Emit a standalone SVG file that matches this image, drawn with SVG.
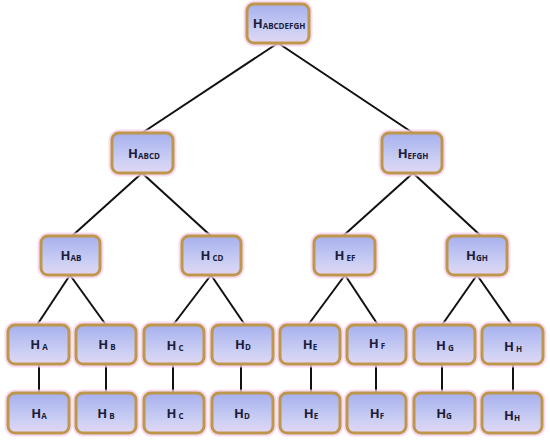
<svg xmlns="http://www.w3.org/2000/svg" width="550" height="443" viewBox="0 0 550 443">
<defs>
<linearGradient id="fillg" x1="0" y1="0" x2="0" y2="1">
<stop offset="0" stop-color="#a6b0ee"/>
<stop offset="0.7" stop-color="#cdd0f4"/>
<stop offset="1" stop-color="#e2d6f4"/>
</linearGradient>
<style>
.glow{fill:none;stroke:#f6cfee;stroke-width:7;opacity:0.75}
.box{fill:url(#fillg);stroke:#bd974c;stroke-width:3}
.lbl{font-family:"Open Sans","DejaVu Sans",sans-serif;font-weight:bold;font-size:13px;fill:#1b1d3a;text-anchor:middle}
.sub{font-size:8px}
.edge{stroke:#111;stroke-width:2;fill:none}
</style>
</defs>
<rect width="550" height="443" fill="#ffffff"/>
<g id="connectors">
<line class="edge" x1="278" y1="43" x2="142" y2="133"/>
<line class="edge" x1="278" y1="43" x2="413" y2="133"/>
<line class="edge" x1="142" y1="173" x2="72" y2="236"/>
<line class="edge" x1="142" y1="173" x2="211" y2="236"/>
<line class="edge" x1="413" y1="173" x2="343" y2="236"/>
<line class="edge" x1="413" y1="173" x2="481" y2="236"/>
<line class="edge" x1="70" y1="275" x2="37" y2="325"/>
<line class="edge" x1="70" y1="275" x2="106" y2="325"/>
<line class="edge" x1="211" y1="275" x2="173" y2="325"/>
<line class="edge" x1="211" y1="275" x2="245" y2="325"/>
<line class="edge" x1="345" y1="275" x2="308" y2="325"/>
<line class="edge" x1="345" y1="275" x2="378" y2="325"/>
<line class="edge" x1="477" y1="275" x2="442" y2="325"/>
<line class="edge" x1="477" y1="275" x2="512" y2="325"/>
<line class="edge" x1="39" y1="364" x2="39" y2="393"/>
<line class="edge" x1="106" y1="364" x2="106" y2="393"/>
<line class="edge" x1="173" y1="364" x2="173" y2="393"/>
<line class="edge" x1="241" y1="364" x2="241" y2="393"/>
<line class="edge" x1="311" y1="364" x2="311" y2="393"/>
<line class="edge" x1="376" y1="364" x2="376" y2="393"/>
<line class="edge" x1="442" y1="364" x2="442" y2="393"/>
<line class="edge" x1="513" y1="364" x2="513" y2="393"/>
</g>
<g id="n-abcdefgh"><rect class="glow" x="247" y="4" width="62" height="39" rx="7"/><rect class="box" x="247" y="4" width="62" height="39" rx="7"/><text class="lbl" x="279" y="28">H<tspan class="sub" dy="1">ABCDEFGH</tspan></text></g>
<g id="n-abcd"><rect class="glow" x="112" y="133" width="61" height="40" rx="7"/><rect class="box" x="112" y="133" width="61" height="40" rx="7"/><text class="lbl" x="144" y="158">H<tspan class="sub" dy="1">ABCD</tspan></text></g>
<g id="n-efgh"><rect class="glow" x="382" y="133" width="60" height="40" rx="7"/><rect class="box" x="382" y="133" width="60" height="40" rx="7"/><text class="lbl" x="413" y="158">H<tspan class="sub" dy="1">EFGH</tspan></text></g>
<g id="n-ab"><rect class="glow" x="41" y="236" width="59" height="39" rx="7"/><rect class="box" x="41" y="236" width="59" height="39" rx="7"/><text class="lbl" x="71" y="260">H<tspan class="sub" dy="1">AB</tspan></text></g>
<g id="n-cd"><rect class="glow" x="182" y="236" width="59" height="39" rx="7"/><rect class="box" x="182" y="236" width="59" height="39" rx="7"/><text class="lbl" x="212" y="260">H<tspan class="sub" dy="1"> CD</tspan></text></g>
<g id="n-ef"><rect class="glow" x="314" y="236" width="61" height="39" rx="7"/><rect class="box" x="314" y="236" width="61" height="39" rx="7"/><text class="lbl" x="345" y="260">H<tspan class="sub" dy="1"> EF</tspan></text></g>
<g id="n-gh"><rect class="glow" x="447" y="236" width="60" height="39" rx="7"/><rect class="box" x="447" y="236" width="60" height="39" rx="7"/><text class="lbl" x="477" y="260">H<tspan class="sub" dy="1">GH</tspan></text></g>
<g id="n-a1"><rect class="glow" x="8" y="325" width="61" height="39" rx="7"/><rect class="box" x="8" y="325" width="61" height="39" rx="7"/><text class="lbl" x="39" y="349">H<tspan class="sub" dy="1"> A</tspan></text></g>
<g id="n-b1"><rect class="glow" x="76" y="325" width="60" height="39" rx="7"/><rect class="box" x="76" y="325" width="60" height="39" rx="7"/><text class="lbl" x="107" y="349">H<tspan class="sub" dy="1"> B</tspan></text></g>
<g id="n-c1"><rect class="glow" x="144" y="325" width="60" height="39" rx="7"/><rect class="box" x="144" y="325" width="60" height="39" rx="7"/><text class="lbl" x="175" y="350">H<tspan class="sub" dy="1"> C</tspan></text></g>
<g id="n-d1"><rect class="glow" x="212" y="325" width="61" height="39" rx="7"/><rect class="box" x="212" y="325" width="61" height="39" rx="7"/><text class="lbl" x="243" y="349">H<tspan class="sub" dy="1">D</tspan></text></g>
<g id="n-e1"><rect class="glow" x="280" y="325" width="60" height="39" rx="7"/><rect class="box" x="280" y="325" width="60" height="39" rx="7"/><text class="lbl" x="310" y="349">H<tspan class="sub" dy="1">E</tspan></text></g>
<g id="n-f1"><rect class="glow" x="347" y="325" width="59" height="39" rx="7"/><rect class="box" x="347" y="325" width="59" height="39" rx="7"/><text class="lbl" x="377" y="348">H<tspan class="sub" dy="1"> F</tspan></text></g>
<g id="n-g1"><rect class="glow" x="414" y="325" width="61" height="39" rx="7"/><rect class="box" x="414" y="325" width="61" height="39" rx="7"/><text class="lbl" x="445" y="350">H<tspan class="sub" dy="1"> G</tspan></text></g>
<g id="n-h1"><rect class="glow" x="482" y="325" width="61" height="39" rx="7"/><rect class="box" x="482" y="325" width="61" height="39" rx="7"/><text class="lbl" x="513" y="351">H<tspan class="sub" dy="1"> H</tspan></text></g>
<g id="n-a2"><rect class="glow" x="8" y="393" width="61" height="40" rx="7"/><rect class="box" x="8" y="393" width="61" height="40" rx="7"/><text class="lbl" x="39" y="418">H<tspan class="sub" dy="1">A</tspan></text></g>
<g id="n-b2"><rect class="glow" x="76" y="393" width="60" height="40" rx="7"/><rect class="box" x="76" y="393" width="60" height="40" rx="7"/><text class="lbl" x="106" y="418">H<tspan class="sub" dy="1"> B</tspan></text></g>
<g id="n-c2"><rect class="glow" x="144" y="393" width="60" height="40" rx="7"/><rect class="box" x="144" y="393" width="60" height="40" rx="7"/><text class="lbl" x="175" y="418">H<tspan class="sub" dy="1"> C</tspan></text></g>
<g id="n-d2"><rect class="glow" x="212" y="393" width="61" height="40" rx="7"/><rect class="box" x="212" y="393" width="61" height="40" rx="7"/><text class="lbl" x="242" y="418">H<tspan class="sub" dy="1">D</tspan></text></g>
<g id="n-e2"><rect class="glow" x="280" y="393" width="60" height="40" rx="7"/><rect class="box" x="280" y="393" width="60" height="40" rx="7"/><text class="lbl" x="311" y="418">H<tspan class="sub" dy="1">E</tspan></text></g>
<g id="n-f2"><rect class="glow" x="347" y="393" width="59" height="40" rx="7"/><rect class="box" x="347" y="393" width="59" height="40" rx="7"/><text class="lbl" x="377" y="418">H<tspan class="sub" dy="1">F</tspan></text></g>
<g id="n-g2"><rect class="glow" x="414" y="393" width="61" height="40" rx="7"/><rect class="box" x="414" y="393" width="61" height="40" rx="7"/><text class="lbl" x="444" y="418">H<tspan class="sub" dy="1">G</tspan></text></g>
<g id="n-h2"><rect class="glow" x="482" y="393" width="60" height="40" rx="7"/><rect class="box" x="482" y="393" width="60" height="40" rx="7"/><text class="lbl" x="512" y="420">H<tspan class="sub" dy="1">H</tspan></text></g>
</svg>
